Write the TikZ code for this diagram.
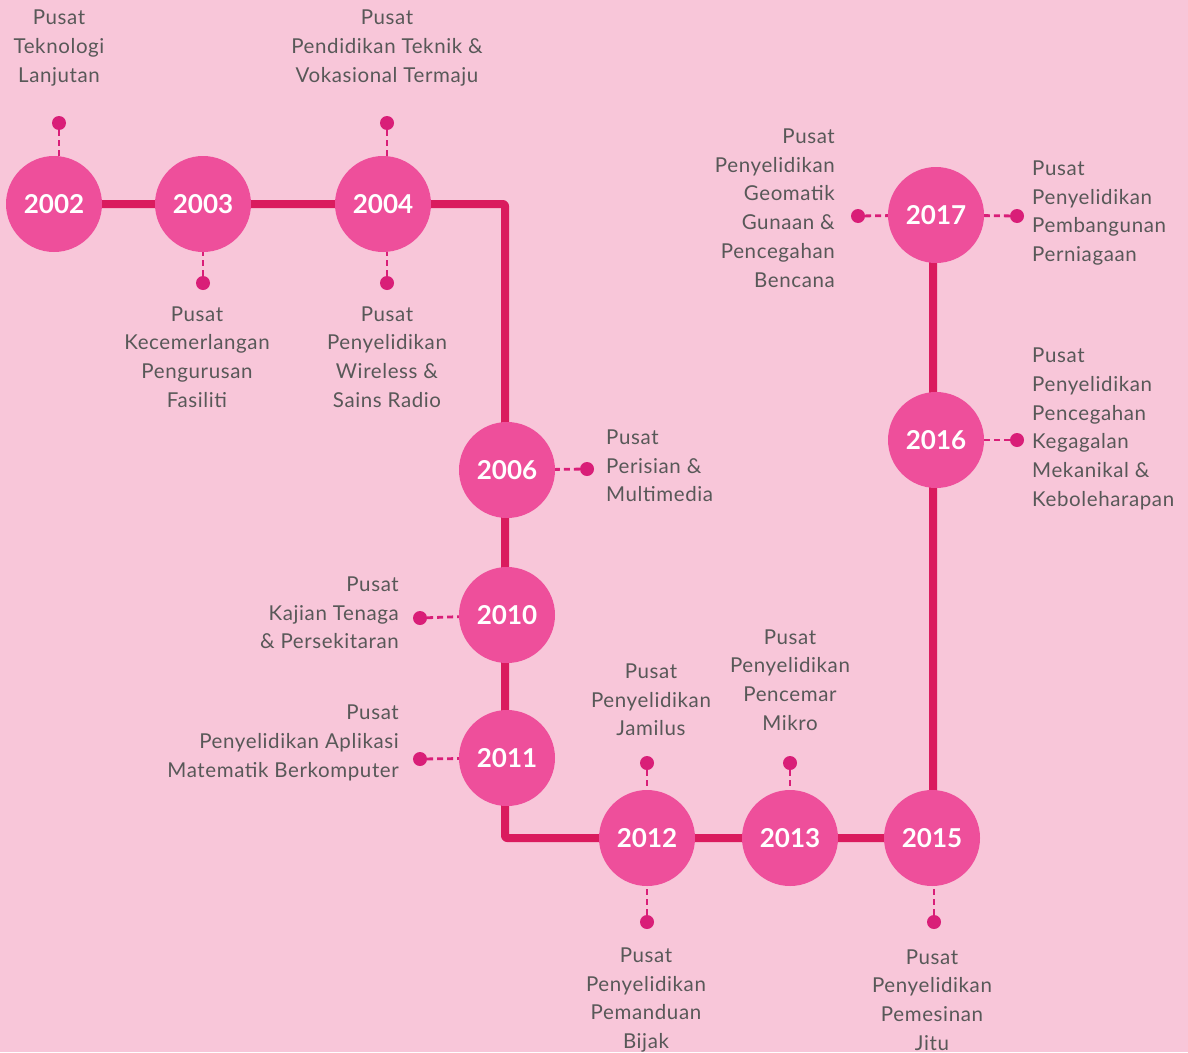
\documentclass[tikz,border=0pt]{standalone}
\usepackage{fontspec}
\setmainfont{Lato}
\newfontfamily\lblfont[LetterSpace=3]{Lato}
\definecolor{bgpink}{HTML}{F8C6D9}
\definecolor{circpink}{HTML}{EE4F9B}
\definecolor{linepink}{HTML}{DA1B5E}
\definecolor{dotpink}{HTML}{D91E78}
\definecolor{txtgray}{HTML}{585858}
\begin{document}
\begin{tikzpicture}[x=1pt,y=-1pt,
  year/.style={circle,fill=circpink,minimum size=96pt,inner sep=0pt,text=white,font=\fontsize{26}{30}\selectfont\bfseries},
  dotn/.style={circle,fill=dotpink,minimum size=14pt,inner sep=0pt},
  conn/.style={dotpink,line width=2.8pt,dash pattern=on 6pt off 4pt},
  lbl/.style={text=txtgray,font=\lblfont\fontsize{20.5}{28.7}\selectfont,inner sep=0pt},
  lblc/.style={lbl,align=center},
  lbll/.style={lbl,align=left,anchor=west},
  lblr/.style={lbl,align=right,anchor=east},
  mainline/.style={linepink,line width=8pt,line join=round,rounded corners=2pt}]
\fill[bgpink] (0,0) rectangle (1188,1052);
\useasboundingbox (0,0) rectangle (1188,1052);
% main path
\coordinate (c1) at (505,204);
\coordinate (c2) at (505,838);
\draw[mainline] (54,204) -- (c1) -- (c2) -- (933,838) -- (933,215);
% circles
\node[year] (y2002) at (54,204) {2002};
\node[year] (y2003) at (203,204) {2003};
\node[year] (y2004) at (383,204) {2004};
\node[year] (y2006) at (507,470) {2006};
\node[year] (y2010) at (507,615) {2010};
\node[year] (y2011) at (507,758) {2011};
\node[year] (y2012) at (647,838) {2012};
\node[year] (y2013) at (790,838) {2013};
\node[year] (y2015) at (932,838) {2015};
\node[year] (y2016) at (936,440) {2016};
\node[year] (y2017) at (936,215) {2017};
% dots
\node[dotn] (d2002) at (59,123) {};
\node[dotn] (d2003) at (203,283) {};
\node[dotn] (d2004a) at (387,123) {};
\node[dotn] (d2004b) at (387,283) {};
\node[dotn] (d2006) at (587,469) {};
\node[dotn] (d2010) at (420,618) {};
\node[dotn] (d2011) at (420,759) {};
\node[dotn] (d2012a) at (647,763) {};
\node[dotn] (d2012b) at (647,922) {};
\node[dotn] (d2013) at (790,763) {};
\node[dotn] (d2015) at (934,922) {};
\node[dotn] (d2016) at (1017,440) {};
\node[dotn] (d2017a) at (858,216) {};
\node[dotn] (d2017b) at (1017,216) {};
% connectors
\draw[conn] (d2002) -- (d2002 |- y2002.north);
\draw[conn] (d2003) -- (d2003 |- y2003.south);
\draw[conn] (d2004a) -- (d2004a |- y2004.north);
\draw[conn] (d2004b) -- (d2004b |- y2004.south);
\draw[conn] (d2006) -- (y2006);
\draw[conn] (d2010) -- (y2010);
\draw[conn] (d2011) -- (y2011);
\draw[conn] (d2012a) -- (y2012);
\draw[conn] (d2012b) -- (y2012);
\draw[conn] (d2013) -- (y2013);
\draw[conn] (d2015) -- (d2015 |- y2015.south);
\draw[conn] (d2016) -- (y2016);
\draw[conn] (d2017a) -- (y2017);
\draw[conn] (d2017b) -- (y2017);
% labels
\node[lblc] (t2002) at (59,48) {Pusat\\Teknologi\\Lanjutan};
\node[lblc] (t2003) at (197,357) {Pusat\\Kecemerlangan\\Pengurusan\\Fasiliti};
\node[lblc] (t2004a) at (387,48) {Pusat\\Pendidikan Teknik \&\\Vokasional Termaju};
\node[lblc] (t2004b) at (387,357) {Pusat\\Penyelidikan\\Wireless \&\\Sains Radio};
\node[lbll] (t2006) at (606,466) {Pusat\\Perisian \&\\Multimedia};
\node[lblr] (t2010) at (399,613) {Pusat\\Kajian Tenaga\\\& Persekitaran};
\node[lblr] (t2011) at (399,743) {Pusat\\Penyelidikan Aplikasi\\Matematik Berkomputer};
\node[lblc] (t2012a) at (651,700) {Pusat\\Penyelidikan\\Jamilus};
\node[lblc] (t2012b) at (646,1000) {Pusat\\Penyelidikan\\Pemanduan\\Bijak};
\node[lblc] (t2013) at (790,680) {Pusat\\Penyelidikan\\Pencemar\\Mikro};
\node[lblc] (t2015) at (932,1000) {Pusat\\Penyelidikan\\Pemesinan\\Jitu};
\node[lbll] (t2016) at (1032,429) {Pusat\\Penyelidikan\\Pencegahan\\Kegagalan\\Mekanikal \&\\Keboleharapan};
\node[lblr] (t2017a) at (835,208) {Pusat\\Penyelidikan\\Geomatik\\Gunaan \&\\Pencegahan\\Bencana};
\node[lbll] (t2017b) at (1032,213) {Pusat\\Penyelidikan\\Pembangunan\\Perniagaan};
\end{tikzpicture}
\end{document}
